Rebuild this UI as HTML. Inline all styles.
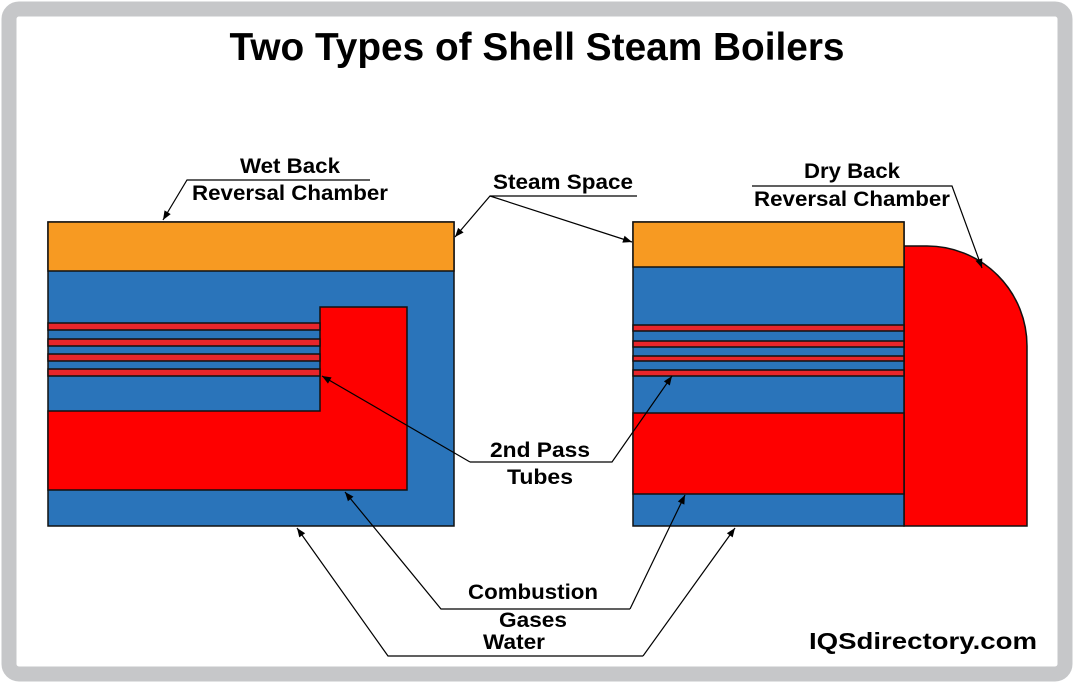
<!DOCTYPE html>
<html><head><meta charset="utf-8"><style>
html,body{margin:0;padding:0;background:#fff;}
svg{display:block;}
text{font-family:"Liberation Sans",Arial,sans-serif;font-weight:bold;fill:#000;}
</style></head><body>
<svg width="1074" height="684" viewBox="0 0 1074 684" xmlns="http://www.w3.org/2000/svg">
<defs>
<marker id="a" viewBox="0 0 10 10" refX="10" refY="5" markerWidth="20" markerHeight="9" markerUnits="userSpaceOnUse" orient="auto"><path d="M0,1 L10,5 L0,9 z" fill="#000"/></marker>
</defs>
<rect x="9" y="9" width="1056" height="665" rx="10" fill="#fff" stroke="#c6c7c9" stroke-width="15"/>
<text x="537" y="60" font-size="39" text-anchor="middle" textLength="615" lengthAdjust="spacingAndGlyphs">Two Types of Shell Steam Boilers</text>

<!-- Left boiler -->
<g stroke="#111" stroke-width="1.5">
<rect x="48" y="222" width="406" height="304" fill="#2a74ba"/>
<rect x="48" y="222" width="406" height="49" fill="#f79a22"/>
<path d="M320,307 H407 V490 H48 V411 H320 Z" fill="#fe0000"/>
<rect x="48" y="323" width="272" height="7" fill="#e8262b"/>
<rect x="48" y="339" width="272" height="7" fill="#e8262b"/>
<rect x="48" y="354" width="272" height="7" fill="#e8262b"/>
<rect x="48" y="369" width="272" height="7" fill="#e8262b"/>
</g>

<!-- Right boiler -->
<g stroke="#111" stroke-width="1.5">
<path d="M904,246 H927 A100,100 0 0 1 1027,346 V526 H904 Z" fill="#fe0000"/>
<rect x="633" y="222" width="271" height="304" fill="#2a74ba"/>
<rect x="633" y="222" width="271" height="45" fill="#f79a22"/>
<rect x="633" y="413" width="271" height="81" fill="#fe0000"/>
<rect x="633" y="325" width="271" height="6" fill="#e8262b"/>
<rect x="633" y="341" width="271" height="6" fill="#e8262b"/>
<rect x="633" y="356" width="271" height="5" fill="#e8262b"/>
<rect x="633" y="370" width="271" height="6" fill="#e8262b"/>
</g>

<!-- Labels & leaders -->
<g stroke="#000" stroke-width="1.2" fill="none">
<path d="M370,180 H187 L163,220" marker-end="url(#a)"/>
<path d="M637,196 H490 L455,237" marker-end="url(#a)"/>
<path d="M490,196 L632,242" marker-end="url(#a)"/>
<path d="M752,186 H952 L982,268" marker-end="url(#a)"/>
<path d="M470,462 L322,376" marker-end="url(#a)"/>
<path d="M470,462 H612 L672,376" marker-end="url(#a)"/>
<path d="M630,609 H441 L345,492" marker-end="url(#a)"/>
<path d="M630,609 L685,495" marker-end="url(#a)"/>
<path d="M643,656 H388 L297,528" marker-end="url(#a)"/>
<path d="M643,656 L735,528" marker-end="url(#a)"/>
</g>
<g font-size="21" text-anchor="middle" lengthAdjust="spacingAndGlyphs">
<text x="290" y="173" textLength="100" lengthAdjust="spacingAndGlyphs">Wet Back</text>
<text x="290" y="200" textLength="196" lengthAdjust="spacingAndGlyphs">Reversal Chamber</text>
<text x="563" y="189" textLength="140" lengthAdjust="spacingAndGlyphs">Steam Space</text>
<text x="852" y="178" textLength="96" lengthAdjust="spacingAndGlyphs">Dry Back</text>
<text x="852" y="206" textLength="196" lengthAdjust="spacingAndGlyphs">Reversal Chamber</text>
<text x="540" y="457" textLength="100" lengthAdjust="spacingAndGlyphs">2nd Pass</text>
<text x="540" y="484" textLength="66" lengthAdjust="spacingAndGlyphs">Tubes</text>
<text x="533" y="599" textLength="130" lengthAdjust="spacingAndGlyphs">Combustion</text>
<text x="533" y="627" textLength="68" lengthAdjust="spacingAndGlyphs">Gases</text>
<text x="514" y="649" textLength="62" lengthAdjust="spacingAndGlyphs">Water</text>
</g>
<text x="1037" y="649" font-size="23" text-anchor="end" textLength="228" lengthAdjust="spacingAndGlyphs">IQSdirectory.com</text>
</svg>
</body></html>
